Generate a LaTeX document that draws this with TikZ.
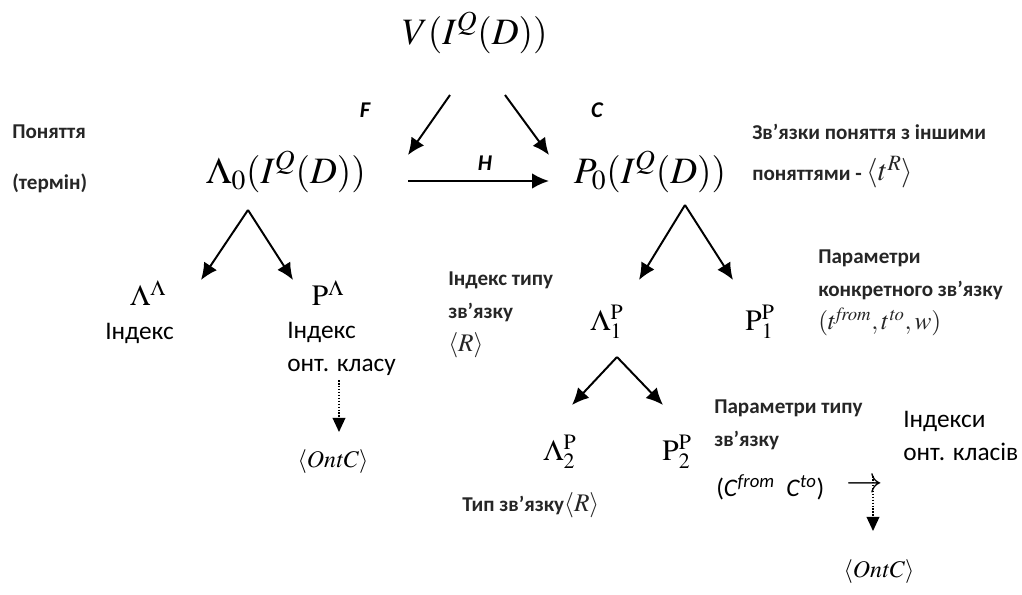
\documentclass[tikz,border=0pt]{standalone}
\usepackage{mathptmx}
\usepackage[no-math]{fontspec}
\setmainfont{Carlito}
\usetikzlibrary{positioning,arrows.meta}
\newcommand{\noteSize}{\fontsize{15}{23.5}\selectfont\bfseries}
\newcommand{\plainSize}{\fontsize{18}{24}\selectfont}
\tikzset{
  formula/.style={inner sep=0pt, font=\fontsize{26.5}{30}\selectfont},
  leaf/.style={inner sep=0pt, font=\fontsize{21}{24}\selectfont},
  note/.style={inner sep=0pt, anchor=west, align=left, font=\noteSize, text=black!85},
  plainNote/.style={note, font=\plainSize, text=black},
  mapName/.style={inner sep=0pt, font=\fontsize{16}{18}\selectfont\bfseries\itshape},
  arrow/.style={-{Latex[length=12pt,width=11pt]}, line width=1.4pt},
  dotArrow/.style={-{Triangle[length=10pt,width=9pt]}, line width=1.1pt, densely dotted}
}

\begin{document}
\begin{tikzpicture}[x=0.025cm, y=-0.025cm]
  \useasboundingbox (0,0) rectangle (1022,594);

  % top level
  \node[formula] (vTop) at (475,33) {$V(I^{Q}(D))$};
  \node[formula] (lam0) at (286,172) {$\Lambda_0(I^{Q}(D))$};
  \node[formula] (p0) at (650,172) {$P_0(I^{Q}(D))$};
  \node[mapName] (fName) at (365,110) {F};
  \node[mapName] (cName) at (597,110) {C};
  \node[mapName] (hName) at (485,163) {H};

  \coordinate (fFrom) at (450,95);  \coordinate (fTo) at (408,155);
  \coordinate (cFrom) at (505,95);  \coordinate (cTo) at (549,155);
  \coordinate (hFrom) at (408,181); \coordinate (hTo) at (549,181);
  \draw[arrow] (fFrom) -- (fTo);
  \draw[arrow] (cFrom) -- (cTo);
  \draw[arrow] (hFrom) -- (hTo);

  \node[note] (concept) at (12,132) {Поняття};
  \node[note] (term) at (12,183) {(термін)};
  \node[note] (links) at (752,132) {Зв’язки поняття з іншими};
  \node[note] (linksEnd) at (752,172) {поняттями - {\mdseries\fontsize{21}{24}\selectfont$\langle t^{R}\rangle$}};

  % left branch
  \node[leaf] (lamL) at (148,293) {$\Lambda^{\Lambda}$};
  \node[leaf] (pL) at (328,293) {$\mathrm{P}^{\Lambda}$};
  \coordinate (lamFork) at (248,210);
  \coordinate (lamLTip) at (201,280);
  \coordinate (pLTip) at (293,280);
  \draw[arrow] (lamFork) -- (lamLTip);
  \draw[arrow] (lamFork) -- (pLTip);

  \node[plainNote] (idxL) at (105,333) {Індекс};
  \node[plainNote] (idxR) at (287,349) {Індекс\\онт. класу};
  \node[leaf, font=\fontsize{17}{20}\selectfont] (ontL) at (333,462) {$\langle \mathit{OntC}\rangle$};
  \coordinate (ontLFrom) at (339,380);
  \coordinate (ontLTo) at (339,432);
  \draw[dotArrow] (ontLFrom) -- (ontLTo);

  % right branch
  \node[leaf] (lam1) at (607,322) {$\Lambda_1^{\mathrm{P}}$};
  \node[leaf] (p1) at (760,322) {$\mathrm{P}_1^{\mathrm{P}}$};
  \coordinate (pFork) at (685,205);
  \coordinate (lam1Tip) at (639,280);
  \coordinate (p1Tip) at (733,280);
  \draw[arrow] (pFork) -- (lam1Tip);
  \draw[arrow] (pFork) -- (p1Tip);

  \node[note] (typeIdx) at (448,315) {Індекс типу\\зв’язку\\{\mdseries\fontsize{18}{20}\selectfont$\langle R\rangle$}};
  \node[note] (params1) at (818,293) {Параметри\\конкретного зв’язку\\{\mdseries\fontsize{18}{20}\selectfont$(t^{\mathit{from}}, t^{\mathit{to}}, w)$}};

  % second level
  \node[leaf] (lam2) at (560,452) {$\Lambda_2^{\mathrm{P}}$};
  \node[leaf] (p2) at (677,452) {$\mathrm{P}_2^{\mathrm{P}}$};
  \coordinate (subFork) at (617,357);
  \coordinate (lam2Tip) at (572,405);
  \coordinate (p2Tip) at (663,405);
  \draw[arrow] (subFork) -- (lam2Tip);
  \draw[arrow] (subFork) -- (p2Tip);

  \node[note] (typeName) at (462,505) {Тип зв’язку{\mdseries\fontsize{18}{20}\selectfont$\langle R\rangle$}};
  \node[note] (params2) at (714,425) {Параметри типу\\зв’язку};
  \node[plainNote, font=\fontsize{18}{20}\selectfont] (fromTo) at (716,487) {(\textit{C}\textsuperscript{\textit{from}}\ \ \textit{C}\textsuperscript{\textit{to}})};
  \node[plainNote] (ontIdx) at (903,436) {Індекси\\онт. класів};
  \node[inner sep=0pt, font=\fontsize{26}{28}\selectfont] (hookArr) at (865,486) {$\rightarrow$};
  \node[leaf, font=\fontsize{17}{20}\selectfont] (ontR) at (879,572) {$\langle \mathit{OntC}\rangle$};
  \coordinate (ontRFrom) at (873,476);
  \coordinate (ontRTo) at (873,531);
  \draw[dotArrow] (ontRFrom) -- (ontRTo);
\end{tikzpicture}
\end{document}
